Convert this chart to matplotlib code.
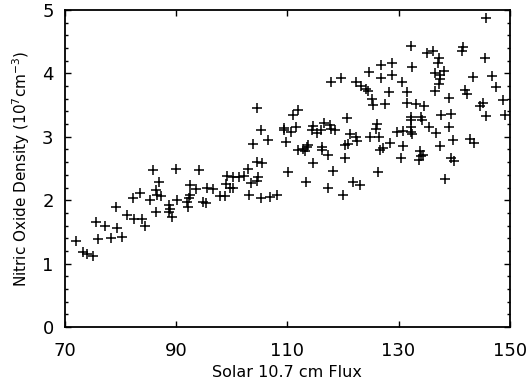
import numpy as np
import matplotlib
matplotlib.use("Agg")
import matplotlib.pyplot as plt
from matplotlib.ticker import MultipleLocator

# solar 10.7 cm flux and nitric oxide density (10^7 cm^-3)
flux = [72.0, 73.3, 74.0, 75.0, 76.0, 75.7, 77.2, 78.3, 79.4, 80.2,
        79.2, 81.2, 82.4, 83.8, 84.5, 82.3, 83.5, 85.4, 85.9, 86.9,
        86.4, 86.6, 87.3, 86.4, 88.8, 89.0, 88.7, 89.3, 90.0, 90.2,
        94.1, 92.6, 93.6, 95.5, 96.7, 99.1, 100.3, 101.3, 102.2, 103.0,
        103.5, 104.5, 104.8, 98.9, 99.7, 100.3, 92.5, 92.3, 92.1, 92.0,
        94.9, 95.3, 97.9, 98.8, 103.2, 105.2, 106.9, 108.2, 104.5, 105.3,
        106.6, 103.8, 109.5, 109.5, 109.7, 104.6, 105.4, 110.2, 110.6, 111.6,
        111.9, 111.1, 111.9, 112.8, 113.1, 113.7, 113.5, 114.6, 114.5, 115.3,
        116.1, 116.6, 117.6, 117.8, 118.6, 116.3, 116.2, 117.4, 114.6, 113.4,
        117.4, 118.3, 120.0, 121.9, 123.0, 120.4, 121.2, 122.4, 122.6, 120.9,
        120.3, 120.8, 117.8, 119.6, 122.3, 123.2, 124.2, 124.5, 124.7, 126.9,
        128.9, 128.9, 126.8, 128.2, 125.2, 125.5, 127.6, 126.2, 126.0, 124.9,
        126.5, 129.7, 126.6, 127.3, 128.4, 126.4, 145.8, 132.2, 135.1, 136.2,
        141.6, 141.4, 137.2, 137.1, 145.5, 132.4, 130.7, 136.5, 137.4, 138.1,
        137.5, 137.3, 136.5, 143.4, 146.8, 147.6, 142.0, 142.3, 131.6, 139.0,
        148.7, 131.5, 133.1, 134.5, 145.1, 144.7, 145.8, 149.2, 137.7, 139.4,
        132.3, 132.3, 134.1, 134.2, 132.2, 132.2, 132.4, 135.5, 136.7, 130.8,
        139.0, 130.8, 137.4, 139.8, 142.8, 143.5, 130.5, 133.8, 134.1, 133.7,
        134.4, 139.5, 139.9, 138.4]
density = [1.36, 1.18, 1.15, 1.12, 1.39, 1.65, 1.60, 1.40, 1.56, 1.42,
           1.90, 1.77, 1.70, 1.70, 1.60, 2.04, 2.11, 2.01, 2.47, 2.29,
           2.16, 2.09, 2.07, 1.81, 1.92, 1.86, 1.82, 1.74, 2.49, 2.00,
           2.48, 2.24, 2.18, 2.19, 2.18, 2.38, 2.36, 2.36, 2.38, 2.50,
           2.27, 2.30, 2.36, 2.25, 2.19, 2.20, 2.08, 2.03, 1.90, 1.97,
           1.97, 1.95, 2.07, 2.06, 2.09, 2.03, 2.05, 2.09, 3.45, 3.10,
           2.95, 2.88, 3.14, 3.10, 2.92, 2.60, 2.59, 2.45, 3.08, 3.15,
           3.43, 3.35, 2.79, 2.80, 2.77, 2.87, 2.84, 3.17, 3.11, 3.06,
           3.11, 3.22, 3.19, 3.13, 3.10, 2.84, 2.79, 2.71, 2.58, 2.28,
           2.20, 2.46, 2.09, 2.28, 2.24, 2.66, 3.05, 3.00, 2.93, 2.89,
           2.87, 3.30, 3.87, 3.92, 3.87, 3.80, 3.75, 3.72, 4.02, 4.13,
           4.17, 3.97, 3.92, 3.70, 3.59, 3.50, 3.52, 3.20, 3.12, 2.99,
           2.99, 3.07, 2.79, 2.83, 2.90, 2.45, 4.88, 4.43, 4.32, 4.35,
           4.42, 4.35, 4.24, 4.17, 4.25, 4.10, 3.86, 4.01, 3.97, 4.03,
           3.91, 3.83, 3.72, 3.94, 3.96, 3.79, 3.74, 3.67, 3.70, 3.61,
           3.58, 3.54, 3.52, 3.49, 3.54, 3.49, 3.33, 3.35, 3.34, 3.36,
           3.31, 3.26, 3.31, 3.26, 3.16, 3.08, 3.04, 3.15, 3.06, 3.09,
           3.16, 2.86, 2.85, 2.95, 2.96, 2.91, 2.67, 2.77, 2.70, 2.63,
           2.71, 2.67, 2.62, 2.33]

xticks = [70, 90, 110, 130, 150]
yticks = [0, 1, 2, 3, 4, 5]

fig = plt.figure(figsize=(5.31, 3.83), dpi=100)
ax = fig.add_axes([0.122, 0.146, 0.838, 0.828])

ax.plot(flux, density, '+', color='black', markersize=6.5, markeredgewidth=1.1)

ax.set_xlim(70, 150)
ax.set_ylim(0, 5)
ax.set_xticks(xticks)
ax.set_yticks(yticks)
ax.yaxis.set_minor_locator(MultipleLocator(0.2))
ax.tick_params(which='both', direction='in', top=True, right=True,
               labelsize=13, width=1)
ax.tick_params(which='major', length=4)
ax.tick_params(which='minor', length=2)
ax.tick_params(axis='y', which='major', pad=8)
ax.tick_params(axis='x', which='major', pad=11)

for s in ax.spines.values():
    s.set_linewidth(1.3)

ax.set_xlabel('Solar 10.7 cm Flux', fontsize=11.5, labelpad=3)
ax.set_ylabel('Nitric Oxide Density (10$^7$cm$^{-3}$)', fontsize=11,
              labelpad=7)

fig.savefig('out.png', dpi=100)
